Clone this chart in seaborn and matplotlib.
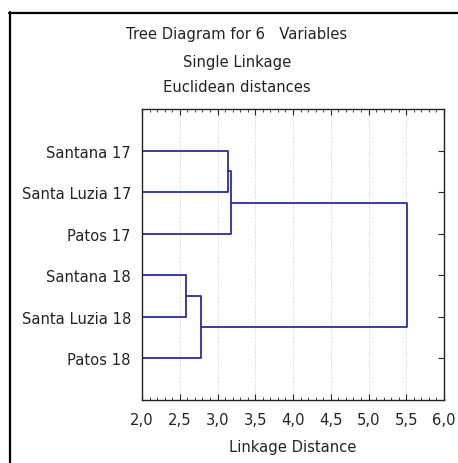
import matplotlib
matplotlib.use("Agg")
import matplotlib.pyplot as plt
import seaborn as sns
import pandas as pd
from matplotlib.lines import Line2D
from matplotlib.ticker import MultipleLocator, FuncFormatter

# Data
labels = ["Santana 17", "Santa Luzia 17", "Patos 17",
          "Santana 18", "Santa Luzia 18", "Patos 18"]
# merges: (cluster a, cluster b, linkage distance); new clusters numbered 6,7,...
merge_a = [0, 6, 3, 8, 7]
merge_b = [1, 2, 4, 5, 9]
merge_dist = [3.135, 3.18, 2.587, 2.78, 5.505]
xticks = [2.0, 2.5, 3.0, 3.5, 4.0, 4.5, 5.0, 5.5, 6.0]

# Build dendrogram segments
node_x = {i: 0.0 for i in range(len(labels))}
node_y = {i: float(i + 1) for i in range(len(labels))}
rows = []
for k, (a, b, d) in enumerate(zip(merge_a, merge_b, merge_dist)):
    pts = [(node_x[a], node_y[a]), (d, node_y[a]), (d, node_y[b]), (node_x[b], node_y[b])]
    for j, (x, y) in enumerate(pts):
        rows.append({"merge": k, "order": j, "x": x, "y": y})
    nid = len(labels) + k
    node_x[nid] = d
    node_y[nid] = (node_y[a] + node_y[b]) / 2
df = pd.DataFrame(rows)

sns.set_style("white")
plt.rcParams["font.family"] = ["DejaVu Sans"]
FS = 10.6
TC = "#222222"

fig = plt.figure(figsize=(4.58, 4.64), dpi=100)
ax = fig.add_axes([142 / 458, 1 - 401 / 464, (444 - 142) / 458, (401 - 110) / 464])

for x in xticks:
    ax.axvline(x, color="#c0c0c0", lw=0.6, ls=(0, (1, 2)), zorder=0)

sns.lineplot(data=df, x="x", y="y", units="merge", estimator=None, sort=False,
             color="#2a2aa5", lw=1.3, ax=ax, legend=False)

ax.set_xlim(2.0, 6.0)
ax.set_ylim(7, 0)
ax.set_xticks(xticks)
ax.xaxis.set_minor_locator(MultipleLocator(0.1))
ax.xaxis.set_major_formatter(FuncFormatter(lambda v, p: f"{v:.1f}".replace(".", ",")))
ax.set_yticks(range(1, 7))
ax.set_yticklabels(labels)
ax.tick_params(axis="x", which="major", direction="in", length=4, width=0.8,
               top=True, bottom=True, labelsize=FS, pad=9, colors=TC)
ax.tick_params(axis="x", which="minor", direction="in", length=2, width=0.6,
               top=True, bottom=True)
ax.tick_params(axis="y", direction="in", length=4, width=0.8, left=False, right=True,
               labelsize=FS, pad=8, colors=TC)
for s in ax.spines.values():
    s.set_color(TC)
    s.set_linewidth(1.0)
ax.set_xlabel("Linkage Distance", fontsize=FS, labelpad=8, color=TC)
ax.set_ylabel("")

fig.text(237 / 458, 1 - 35 / 464, "Tree Diagram for 6   Variables", ha="center", va="center",
         fontsize=FS, color=TC)
fig.text(237 / 458, 1 - 62 / 464, "Single Linkage", ha="center", va="center",
         fontsize=FS, color=TC)
fig.text(237 / 458, 1 - 88 / 464, "Euclidean distances", ha="center", va="center",
         fontsize=FS, color=TC)

# outer frame (top and left edges)
fig.add_artist(Line2D([9 / 458, 1.01], [1 - 13.5 / 464, 1 - 13.5 / 464], transform=fig.transFigure,
                      color="black", lw=1.6))
fig.add_artist(Line2D([9.5 / 458, 9.5 / 458], [-0.01, 1 - 13 / 464], transform=fig.transFigure,
                      color="black", lw=1.6))

fig.savefig("out.png", dpi=100)
